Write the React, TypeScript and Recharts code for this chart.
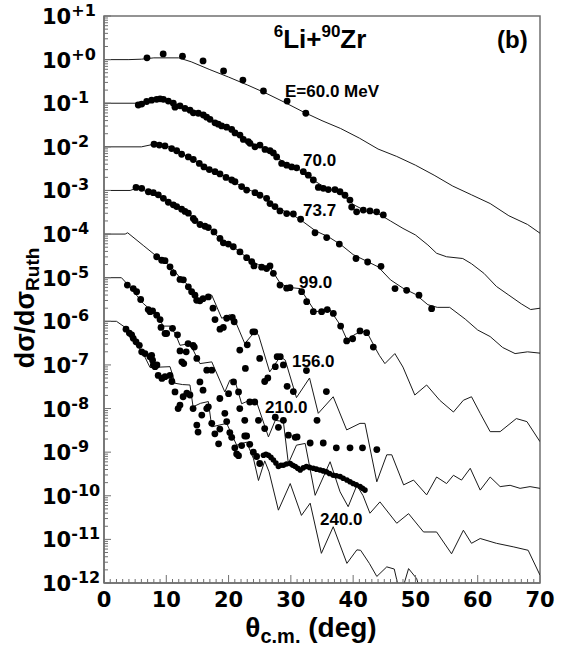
import React from "react"
import { ComposedChart, Line, Scatter, XAxis, YAxis, ReferenceArea } from "recharts"

// angle (deg) and log10(dσ/dσRuth)
const fit60 = [[0,0],[4,0],[6,0.01],[8,0.04],[12,0.04],[14,-0.05],[17,-0.23],[20,-0.4],[23,-0.58],[26,-0.77],[29,-0.98],[32,-1.2],[35,-1.4],[38,-1.58],[41,-1.8],[44,-2.05],[47,-2.22],[50,-2.42],[53,-2.65],[56,-2.9],[59,-3.1],[62,-3.3],[65,-3.58],[68,-3.78],[70,-3.98]]
const fit70 = [[0,-1],[5,-1],[7,-0.97],[9,-0.92],[10.5,-0.94],[12,-1.06],[14,-1.2],[16,-1.3],[18,-1.46],[20,-1.58],[22,-1.76],[24,-1.93],[26,-2.07],[28,-2.27],[30,-2.44],[32,-2.57],[34,-2.8],[36,-2.97],[38,-3.05],[40,-3.32],[42,-3.47],[44,-3.53],[46,-3.7],[48,-3.87],[50,-4.02],[52,-4.25],[53.4,-4.44],[55,-4.52],[57.6,-4.56],[59,-4.68],[61,-4.9],[63,-5.2],[65,-5.4],[67,-5.6],[68.5,-5.73],[70,-5.7]]
const fit737 = [[0,-2],[6,-2],[8,-1.94],[10,-1.97],[12,-2.12],[14,-2.27],[16,-2.44],[18,-2.58],[20,-2.73],[22,-2.9],[24,-3.03],[26,-3.18],[28,-3.42],[30,-3.53],[32,-3.72],[34,-3.93],[36,-4.06],[38,-4.24],[40,-4.47],[42,-4.61],[44,-4.75],[46,-5.05],[48,-5.24],[50,-5.38],[52,-5.62],[53.5,-5.68],[55.5,-5.68],[58,-5.95],[60,-6.2],[62,-6.35],[64,-6.6],[66,-6.74],[68,-6.7],[70,-6.73]]
const fit99 = [[0,-3],[4.2,-3],[5.2,-2.95],[7,-3.03],[9.5,-3.18],[11.7,-3.36],[13,-3.48],[14.3,-3.62],[15.5,-3.78],[16.8,-3.86],[17.6,-3.95],[18.6,-4.12],[20,-4.23],[21.6,-4.38],[23.4,-4.6],[24.8,-4.7],[26.6,-4.75],[28.3,-5.13],[29.5,-5.22],[31.5,-5.25],[33.9,-5.78],[35,-5.76],[36.3,-5.74],[38,-6.1],[39,-6.42],[40.3,-6.3],[41.5,-6.22],[42.4,-6.3],[43.5,-6.6],[44.2,-6.78],[45.1,-6.97],[46.7,-6.74],[48,-7.05],[49.9,-7.69],[51.8,-7.46],[53.9,-7.81],[56.1,-8.08],[57.7,-7.81],[59,-7.73],[60.4,-8.11],[62,-8.53],[63.6,-8.53],[66.2,-8.23],[67.9,-8.3],[70,-8.76]]
const fit156 = [[0,-4],[3.4,-4],[3.8,-3.97],[6.3,-4.26],[8.2,-4.48],[9.3,-4.6],[10.6,-4.72],[12.2,-5.0],[13.8,-5.21],[14.9,-5.5],[15.5,-5.52],[16.8,-5.42],[17.3,-5.4],[18.9,-5.93],[20.2,-5.85],[21,-5.97],[22.6,-6.51],[24.2,-6.24],[24.8,-6.31],[26.6,-7.16],[28.3,-6.81],[29.1,-6.89],[30.9,-7.75],[33,-7.3],[34.4,-8.11],[36.8,-7.73],[38.96,-8.49],[41.1,-8.34],[41.9,-8.34],[43.8,-9.68],[45.4,-9.06],[46.2,-9.06],[48.1,-9.75],[49.7,-9.64],[51.8,-9.98],[53.4,-9.57],[55,-9.72],[56.1,-9.53],[57.4,-9.64],[58.8,-9.37],[60.4,-9.87],[62,-9.57],[63.6,-9.79],[65.2,-9.76],[66.8,-9.83],[68.4,-9.79],[70,-9.83]]
const fit210 = [[0,-5],[2.8,-5],[3.9,-5.17],[6.3,-5.59],[8.2,-5.83],[9,-5.97],[9.5,-6.11],[10.6,-6.11],[11.5,-6.3],[12.2,-6.55],[13.8,-6.51],[15.4,-6.97],[17.3,-6.93],[19.4,-7.62],[20.2,-7.35],[21,-7.35],[22.1,-7.89],[23.4,-7.81],[24.5,-7.85],[26.4,-8.65],[27.5,-8.27],[28.8,-8.3],[29.6,-9.26],[30.9,-8.84],[32.3,-8.8],[33.9,-9.99],[36.3,-9.22],[37.9,-9.91],[39.2,-10.25],[40.6,-9.76],[41.6,-10.0],[42.7,-10.4],[44.3,-10.14],[47,-10.63],[48.9,-10.41],[51.3,-10.83],[53.4,-10.83],[55.8,-11.33],[57.7,-10.79],[59,-11.09],[60.4,-10.98],[63,-11.09],[65.7,-11.17],[68.1,-11.25],[70,-11.82]]
const fit240 = [[0,-6],[2,-6],[3.5,-6.15],[5,-6.45],[6.5,-6.8],[7.4,-7.06],[10.6,-7.04],[11.4,-7.42],[12.6,-7.45],[13.8,-7.46],[14.3,-7.96],[15.5,-7.88],[16.75,-7.84],[17.3,-8.42],[18.5,-8.38],[19.7,-8.34],[21.3,-8.84],[22.9,-8.77],[24,-9.15],[24.8,-9.65],[25.8,-9.2],[26.5,-9.45],[28,-10.33],[29.9,-9.72],[31.7,-10.45],[33.1,-10.17],[34.9,-11.32],[36.8,-10.71],[39,-11.55],[40.6,-11.24],[41.2,-11.25],[42.6,-11.55],[43.8,-11.85],[45.4,-11.63],[46.6,-11.68],[47.6,-12.3],[48.9,-11.67],[50.2,-11.9],[51,-12.3],[52.8,-12.3],[53.9,-11.98],[55,-12.4]]

const exp60 = [[6.9,0.04],[9.5,0.13],[12.6,0.08],[15.9,-0.03],[19.2,-0.26],[22.3,-0.47],[25.6,-0.72],[29.4,-0.95],[32.4,-1.23]]
const exp70 = [[5.5,-1.04],[6.05,-1.02],[6.85,-0.96],[7.65,-0.93],[8.46,-0.91],[9,-0.9],[9.53,-0.91],[10.33,-0.95],[11.13,-1],[11.4,-1.09],[12.2,-1.06],[13,-1.12],[13.81,-1.16],[14.34,-1.22],[15.14,-1.23],[15.95,-1.27],[16.48,-1.32],[17.02,-1.37],[17.82,-1.45],[18.35,-1.48],[18.89,-1.52],[19.69,-1.55],[20.5,-1.6],[21.03,-1.68],[21.83,-1.73],[22.37,-1.83],[23.17,-1.88],[23.44,-1.92],[24.24,-2],[25.04,-1.96],[25.85,-2.06],[26.65,-2.09],[27.19,-2.14],[27.72,-2.23],[28.52,-2.38],[29.33,-2.42],[30.13,-2.46],[30.93,-2.48],[32,-2.57],[32.8,-2.65],[33.61,-2.76],[34.41,-2.93],[35.21,-2.95],[36.01,-2.98],[37.08,-2.98],[37.89,-3.03],[38.69,-3.11],[39.49,-3.22],[39.76,-3.38],[40.56,-3.49],[41.63,-3.45],[42.7,-3.47],[43.77,-3.49],[44.84,-3.56]]
const exp737 = [[8.03,-1.94],[8.88,-1.96],[9.79,-1.98],[10.86,-2.04],[11.67,-2.09],[12.47,-2.17],[13.54,-2.23],[14.34,-2.29],[15.3,-2.38],[16.05,-2.46],[16.91,-2.52],[17.82,-2.57],[18.62,-2.62],[19.59,-2.7],[20.5,-2.76],[21.03,-2.8],[22.1,-2.91],[22.9,-2.99],[24.24,-3.05],[25.04,-3.11],[26.11,-3.18],[26.65,-3.3],[27.45,-3.37],[28.25,-3.47],[29.33,-3.53],[30.4,-3.54],[31.57,-3.66],[33.88,-3.97],[35.75,-4.08],[37.78,-4.23],[40.46,-4.56],[42.33,-4.64],[44.47,-4.74],[46.72,-5.25],[48.59,-5.29],[50.57,-5.4],[52.6,-5.71]]
const exp99 = [[5.14,-2.93],[6.05,-2.95],[7.12,-3.03],[7.92,-3.05],[8.72,-3.1],[9.53,-3.18],[10.33,-3.27],[11.13,-3.33],[11.67,-3.37],[12.47,-3.43],[13,-3.48],[13.54,-3.52],[14.34,-3.64],[14.61,-3.69],[15.41,-3.78],[16.21,-3.82],[16.75,-3.85],[17.66,-3.95],[18.62,-4.1],[19.16,-4.2],[19.96,-4.23],[20.76,-4.29],[21.83,-4.41],[22.9,-4.54],[23.71,-4.63],[24.08,-4.73],[25.31,-4.76],[26.11,-4.79],[26.65,-4.73],[27.19,-4.9],[28.26,-5.17],[29.33,-5.24],[29.86,-5.23],[31.73,-5.32],[32.54,-5.55],[33.61,-5.78],[34.94,-5.78],[35.85,-5.73],[36.82,-5.82],[37.99,-6.11],[38.96,-6.45],[39.92,-6.4],[41.1,-6.22],[42.17,-6.26],[43.24,-6.59]]
const exp156 = [[8.46,-4.52],[9.26,-4.6],[9.8,-4.61],[10.6,-4.75],[11.13,-4.89],[12.2,-5.04],[12.74,-5.05],[13.54,-5.21],[14.07,-5.32],[14.6,-5.4],[14.88,-5.52],[15.4,-5.53],[15.9,-5.48],[16.75,-5.44],[17.5,-5.7],[17.82,-5.96],[18.62,-6.18],[19.16,-6.14],[19.7,-5.93],[20.6,-5.91],[20.9,-6.01],[21.8,-6.66],[22.7,-7.08],[23,-6.54],[23.9,-6.24],[24.2,-6.24],[25,-6.85],[25.8,-7.38],[26.3,-7.3],[27.5,-7.04],[27.8,-6.81],[28.3,-6.81],[28.8,-7],[29.4,-7.49],[30.4,-7.61],[32.5,-7.13],[34.2,-8.27],[35.7,-7.61]]
const exp210 = [[3.75,-5.17],[4.7,-5.25],[5.24,-5.32],[5.89,-5.5],[7.1,-5.73],[7.4,-5.78],[7.8,-5.76],[8.46,-5.86],[9,-5.96],[9.15,-6.14],[9.8,-6.28],[10.06,-6.28],[11,-6.16],[11.8,-6.31],[12.2,-6.68],[12.5,-6.93],[12.8,-6.97],[13.2,-6.7],[13.5,-6.51],[14.3,-6.55],[14.5,-6.59],[14.9,-6.85],[15.4,-7.39],[15.9,-7.58],[16.5,-7.12],[17.3,-7.12],[18.6,-7.77],[20,-7.66],[20.8,-7.39],[21.6,-7.62],[21.8,-8],[22.6,-8.27],[23.4,-7.85],[24.2,-7.85],[24.8,-8.27],[25.8,-8.46],[27.5,-8.2],[28,-8.43],[28.8,-8.27],[29.6,-8.61],[30.7,-8.66],[31,-8.65],[33.1,-8.79],[35.2,-8.79],[37.3,-8.9],[39.5,-8.9],[41.5,-8.9],[43.8,-8.94]]
const exp240 = [[3.53,-6.18],[4.07,-6.27],[4.44,-6.31],[4.7,-6.39],[5.14,-6.47],[5.67,-6.55],[6.05,-6.7],[6.58,-6.74],[7.38,-6.81],[7.65,-6.78],[7.8,-6.89],[7.92,-7],[8.2,-7.04],[8.5,-7],[8.7,-7.24],[9.3,-7.31],[9.8,-7.27],[10.6,-7.24],[10.9,-7.38],[11.4,-7.62],[11.9,-8],[12.2,-7.92],[12.7,-7.73],[13.3,-7.65],[13.8,-7.69],[14.3,-8],[14.9,-8.38],[15.1,-8.54],[15.7,-8.15],[16.5,-8],[16.75,-7.96],[17.3,-8.34],[17.8,-8.58],[18.4,-8.81],[18.6,-8.47],[19.4,-8.11],[19.7,-8.3],[20.2,-8.55],[20.5,-8.66],[21,-8.9],[21.3,-9.04],[21.6,-9.08],[22.1,-8.85],[22.6,-8.63],[22.9,-8.63],[23.4,-8.82],[23.97,-9],[24.5,-9.1],[25,-9.26]]
const exp240dense = [[25.6,-9.07],[26,-9.05],[26.4,-9.07],[26.8,-9.12],[27.2,-9.18],[27.6,-9.25],[28,-9.33],[28.4,-9.3],[28.8,-9.3],[29.3,-9.27],[29.9,-9.26],[30.3,-9.3],[30.7,-9.33],[31.1,-9.37],[31.5,-9.41],[32,-9.36],[32.5,-9.33],[33,-9.35],[33.6,-9.37],[34.1,-9.39],[34.7,-9.41],[35.2,-9.43],[35.7,-9.45],[36.2,-9.49],[36.8,-9.53],[37.3,-9.54],[37.9,-9.56],[38.4,-9.6],[39,-9.64],[39.5,-9.68],[40,-9.72],[40.5,-9.75],[41.1,-9.79],[41.5,-9.83],[41.9,-9.87]]

const fits = [fit60, fit70, fit737, fit99, fit156, fit210, fit240]
const exps = [exp60, exp70, exp737, exp99, exp156, exp210, exp240]

const yDecades = [-12, -11, -10, -9, -8, -7, -6, -5, -4, -3, -2, -1, 0, 1]
const minorSteps = [2, 3, 4, 5, 6, 7, 8, 9]
const xTicks = [0, 1, 2, 3, 4, 5, 6, 7, 8, 9, 10, 11, 12, 13, 14, 15, 16, 17, 18, 19, 20, 21, 22, 23, 24, 25, 26, 27, 28, 29, 30, 31, 32, 33, 34, 35, 36, 37, 38, 39, 40, 41, 42, 43, 44, 45, 46, 47, 48, 49, 50, 51, 52, 53, 54, 55, 56, 57, 58, 59, 60, 61, 62, 63, 64, 65, 66, 67, 68, 69, 70]

const yTicks: number[] = []
yDecades.forEach((d) => {
  yTicks.push(Math.pow(10, d))
  if (d < 1) minorSteps.forEach((m) => yTicks.push(m * Math.pow(10, d)))
})

const toPts = (arr: number[][]) => arr.map(([x, e]) => ({ x, y: Math.pow(10, e) }))

const AXIS = "#707070"
const TICK_FONT = "'DejaVu Sans', sans-serif"
const TEXT_FONT = "'Liberation Sans', Arial, sans-serif"

const YTick = (props: any) => {
  const { x, y, payload } = props
  const lg = Math.log10(payload.value)
  const e = Math.round(lg)
  const major = Math.abs(lg - e) < 1e-6
  return (
    <g>
      <line x1={x} x2={x + (major ? 7 : 4)} y1={y} y2={y} stroke={AXIS} strokeWidth={1} />
      {major && (
        <text x={x - 62} y={y + 8} fontFamily={TICK_FONT} fontWeight="bold" fontSize={21} fill="#000">
          10<tspan dy={-8} fontSize={16}>{e >= 0 ? `+${e}` : `${e}`}</tspan>
        </text>
      )}
    </g>
  )
}

const XTick = (props: any) => {
  const { x, y, payload } = props
  const major = payload.value % 10 === 0
  return (
    <g>
      <line x1={x} x2={x} y1={y} y2={y - (major ? 8 : 4)} stroke={AXIS} strokeWidth={1} />
      {major && (
        <text x={x} y={y + 24} textAnchor="middle" fontFamily={TICK_FONT} fontWeight="bold" fontSize={21} fill="#000">
          {payload.value}
        </text>
      )}
    </g>
  )
}

const Dot = (r: number) => (p: any) => <circle cx={p.cx} cy={p.cy} r={r} fill="#000" />

export default function App() {
  return (
    <div style={{ position: "absolute", left: 0, top: 0, width: 563, height: 648, background: "#fff" }}>
      <ComposedChart width={563} height={648} margin={{ top: 16, right: 23, bottom: 0, left: 0 }}>
        <XAxis
          type="number"
          dataKey="x"
          domain={[0, 70]}
          allowDataOverflow
          ticks={xTicks}
          interval={0}
          tick={(p: any) => <XTick {...p} />}
          tickLine={false}
          tickSize={0}
          tickMargin={0}
          height={65}
          axisLine={{ stroke: AXIS, strokeWidth: 1.5 }}
        />
        <YAxis
          type="number"
          dataKey="y"
          scale="log"
          domain={[1e-12, 10]}
          allowDataOverflow
          ticks={yTicks}
          interval={0}
          tick={(p: any) => <YTick {...p} />}
          tickLine={false}
          tickSize={0}
          tickMargin={0}
          width={104}
          axisLine={{ stroke: AXIS, strokeWidth: 1.5 }}
        />
        <ReferenceArea x1={0} x2={70} y1={1e-12} y2={10} fill="none" fillOpacity={0} stroke={AXIS} strokeWidth={1.5} />
        {fits.map((f, i) => (
          <Line
            key={`fit${i}`}
            data={toPts(f)}
            dataKey="y"
            type="linear"
            stroke="#1a1a1a"
            strokeWidth={1}
            dot={false}
            isAnimationActive={false}
          />
        ))}
        {exps.map((d, i) => (
          <Scatter key={`exp${i}`} data={toPts(d)} dataKey="y" shape={Dot(3.4)} isAnimationActive={false} />
        ))}
        <Scatter data={toPts(exp240dense)} dataKey="y" shape={Dot(2.8)} isAnimationActive={false} />
      </ComposedChart>
      <svg width={563} height={648} style={{ position: "absolute", left: 0, top: 0, pointerEvents: "none" }}>
        <g fontFamily={TEXT_FONT} fontWeight="bold" fill="#000">
          <text x={320} y={48} textAnchor="middle" fontSize={26}>
            <tspan fontSize={17} dy={-11}>6</tspan>
            <tspan dy={11}>Li+</tspan>
            <tspan fontSize={17} dy={-11}>90</tspan>
            <tspan dy={11}>Zr</tspan>
          </text>
          <text x={497} y={48} fontSize={24}>(b)</text>
          <text x={285} y={97} fontSize={17}>E=60.0 MeV</text>
          <text x={303} y={166} fontSize={17}>70.0</text>
          <text x={303} y={216} fontSize={17}>73.7</text>
          <text x={299} y={288} fontSize={17}>99.0</text>
          <text x={292} y={367} fontSize={17}>156.0</text>
          <text x={265} y={413} fontSize={17}>210.0</text>
          <text x={320} y={525} fontSize={17}>240.0</text>
          <text transform="translate(34, 308) rotate(-90)" textAnchor="middle" fontSize={27}>
            dσ/dσ<tspan fontSize={19} dy={5}>Ruth</tspan>
          </text>
          <text x={311} y={637} textAnchor="middle" fontSize={28}>
            θ<tspan fontSize={20} dy={6}>c.m.</tspan><tspan dy={-6}> (deg)</tspan>
          </text>
        </g>
      </svg>
    </div>
  )
}
